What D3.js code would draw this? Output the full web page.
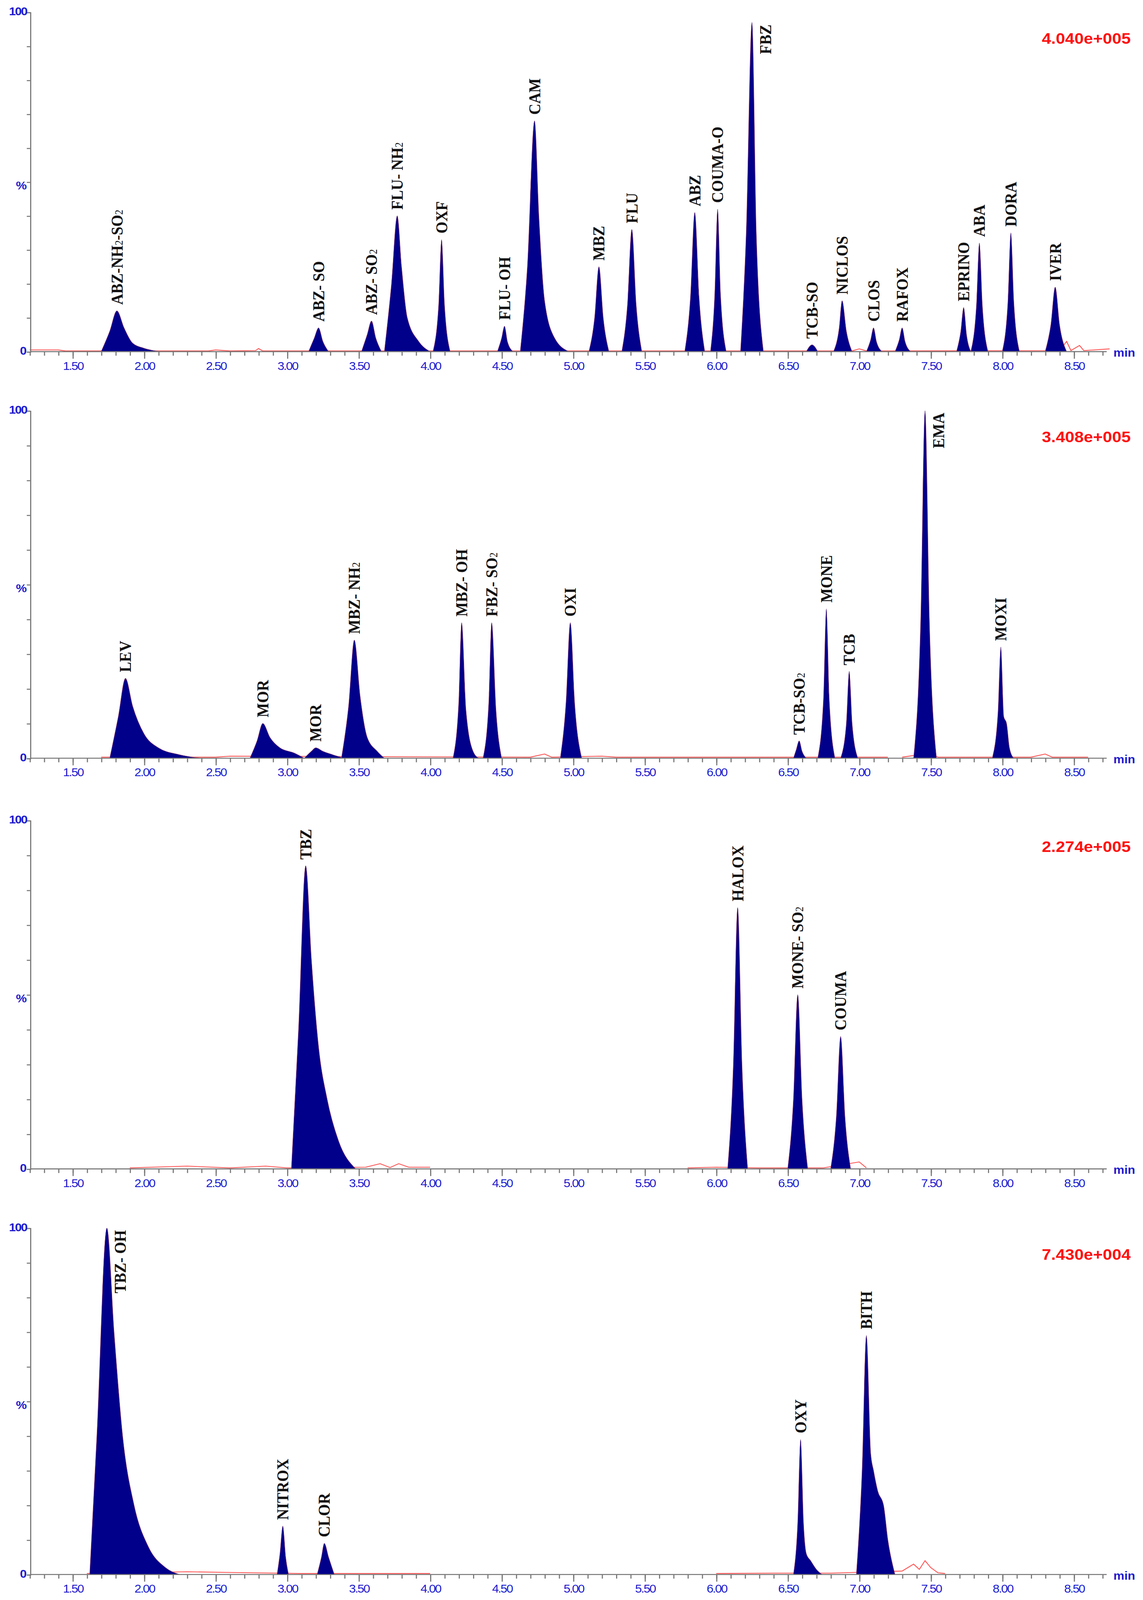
<!DOCTYPE html>
<html lang="en">
<head>
<meta charset="UTF-8">
<title>Chromatograms</title>
<style>
  html, body { margin: 0; padding: 0; background: #fff; overflow: hidden; }
  svg { display: block; }
  .tick text { font-family: "Liberation Sans", Arial, sans-serif; fill: #1c1cd0; font-size: 11px; letter-spacing: -0.8px; }
  .tick line, .domain { stroke: #777; }
  .peak { fill: #00008b; stroke: #8a3a6a; stroke-width: 0.4; }
  .noise { fill: none; stroke: #ff5050; stroke-width: 0.8; }
  .lbl { font-family: "Liberation Serif", "Times New Roman", serif; font-size: 15px; font-weight: bold; fill: #111; }
  .ylab { font-family: "Liberation Sans", Arial, sans-serif; fill: #1c1cd0; font-size: 11px; font-weight: bold; }
  .scale { font-family: "Liberation Sans", Arial, sans-serif; fill: #ff1010; font-size: 15px; font-weight: bold; }
</style>
</head>
<body>
<script src="https://cdnjs.cloudflare.com/ajax/libs/d3/7.8.5/d3.min.js"></script>
<script>
// intensity scale of each trace
var scaleLabels = ["4.040e+005", "3.408e+005", "2.274e+005", "7.430e+004"];
var xTicks = [1.5, 2, 2.5, 3, 3.5, 4, 4.5, 5, 5.5, 6, 6.5, 7, 7.5, 8, 8.5];

// peaks: [label, points [min, %]]   ("_2" = subscript 2)
var peaks1 = [
  ["ABZ-NH_2-SO_2", [[1.70,0],[1.76,6],[1.81,12],[1.86,7],[1.92,2.5],[2.0,1],[2.12,0]]],
  ["ABZ- SO", [[3.15,0],[3.19,4],[3.22,7],[3.25,3],[3.29,0]]],
  ["ABZ- SO_2", [[3.52,0],[3.56,5],[3.59,9],[3.62,4],[3.66,0]]],
  ["FLU- NH_2", [[3.68,0],[3.73,20],[3.77,40],[3.80,25],[3.84,10],[3.92,3],[4.0,0]]],
  ["OXF", [[4.02,0],[4.06,14],[4.08,33],[4.10,14],[4.14,0]]],
  ["FLU- OH", [[4.47,0],[4.50,4],[4.52,7.5],[4.54,3],[4.58,0]]],
  ["CAM", [[4.63,0],[4.68,25],[4.73,68],[4.76,40],[4.80,15],[4.87,4],[4.97,0]]],
  ["MBZ", [[5.11,0],[5.15,10],[5.18,25],[5.21,10],[5.25,0]]],
  ["FLU", [[5.34,0],[5.38,14],[5.41,36],[5.44,14],[5.48,0]]],
  ["ABZ", [[5.78,0],[5.82,16],[5.85,41],[5.88,16],[5.92,0]]],
  ["COUMA-O", [[5.96,0],[5.99,17],[6.01,42],[6.03,17],[6.07,0]]],
  ["FBZ", [[6.17,0],[6.21,35],[6.25,97],[6.28,35],[6.33,0]]],
  ["TCB-SO", [[6.63,0],[6.67,2],[6.71,0]]],
  ["NICLOS", [[6.82,0],[6.86,7],[6.88,15],[6.91,6],[6.95,0]]],
  ["CLOS", [[7.05,0],[7.08,3.5],[7.10,7],[7.12,3],[7.16,0]]],
  ["RAFOX", [[7.25,0],[7.28,3.5],[7.30,7],[7.32,3],[7.36,0]]],
  ["EPRINO", [[7.68,0],[7.71,6],[7.73,13],[7.75,5],[7.78,0]]],
  ["ABA", [[7.78,0],[7.82,14],[7.84,32],[7.86,14],[7.90,0]]],
  ["DORA", [[8.00,0],[8.04,15],[8.06,35],[8.08,15],[8.12,0]]],
  ["IVER", [[8.30,0],[8.34,8],[8.37,19],[8.40,8],[8.45,0]]]
];
var peaks2 = [
  ["LEV", [[1.76,0],[1.82,12],[1.87,23],[1.92,15],[2.0,7],[2.1,3],[2.25,1],[2.4,0]]],
  ["MOR", [[2.74,0],[2.79,5],[2.83,10],[2.88,6],[2.95,3],[3.05,1.5],[3.12,0]]],
  ["MOR", [[3.12,0],[3.17,2],[3.20,3],[3.25,2],[3.32,1],[3.40,0]]],
  ["MBZ- NH_2", [[3.38,0],[3.43,15],[3.47,34],[3.51,18],[3.56,6],[3.63,2],[3.68,0]]],
  ["MBZ- OH", [[4.16,0],[4.20,16],[4.22,39],[4.25,14],[4.30,2],[4.34,0]]],
  ["FBZ-  SO_2", [[4.37,0],[4.41,16],[4.43,39],[4.46,14],[4.50,0]]],
  ["OXI", [[4.91,0],[4.95,16],[4.98,39],[5.01,16],[5.06,0]]],
  ["TCB-SO_2", [[6.54,0],[6.56,2.5],[6.58,5],[6.60,2],[6.63,0]]],
  ["MONE", [[6.71,0],[6.75,17],[6.77,43],[6.79,17],[6.83,0]]],
  ["TCB", [[6.87,0],[6.91,10],[6.93,25],[6.95,10],[6.99,0]]],
  ["EMA", [[7.38,0],[7.43,40],[7.46,100],[7.49,40],[7.54,0]]],
  ["MOXI", [[7.93,0],[7.97,13],[7.99,32],[8.01,12],[8.03,10],[8.05,3],[8.08,0]]]
];
var peaks3 = [
  ["TBZ", [[3.03,0],[3.08,40],[3.13,87],[3.17,60],[3.22,35],[3.28,20],[3.36,8],[3.48,0]]],
  ["HALOX", [[6.08,0],[6.12,30],[6.15,75],[6.18,30],[6.22,0]]],
  ["MONE- SO_2", [[6.50,0],[6.54,20],[6.57,50],[6.60,20],[6.64,0]]],
  ["COUMA", [[6.80,0],[6.84,15],[6.87,38],[6.90,15],[6.94,0]]]
];
var peaks4 = [
  ["TBZ- OH", [[1.62,0],[1.67,40],[1.74,100],[1.79,70],[1.85,40],[1.93,20],[2.03,8],[2.15,2],[2.25,0]]],
  ["NITROX", [[2.93,0],[2.95,6],[2.97,14],[2.99,5],[3.01,0]]],
  ["CLOR", [[3.21,0],[3.24,5],[3.26,9],[3.29,5],[3.33,0]]],
  ["OXY", [[6.54,0],[6.57,15],[6.59,39],[6.61,15],[6.63,6],[6.66,4],[6.70,1.5],[6.74,0]]],
  ["BITH", [[6.98,0],[7.02,30],[7.05,69],[7.08,35],[7.10,30],[7.13,24],[7.17,20],[7.20,10],[7.25,0]]]
];
// labels drawn beside the apex instead of above
var sideLabels = ["FBZ", "EMA", "TBZ- OH"];

// baseline noise traces (red)
var noise1 = [[[1.2,0.5],[1.4,0.5],[1.45,0.2],[2.45,0.2],[2.5,0.5],[2.6,0.2],[2.78,0.3],[2.8,0.9],[2.83,0.2],[6.95,0.2],[7.0,0.8],[7.05,0.2],[8.4,0.3],[8.45,3],[8.48,0.3],[8.54,1.8],[8.57,0.3],[8.75,0.8]]];
var noise2 = [[[1.7,0.3],[2.5,0.3],[2.6,0.6],[4.7,0.3],[4.8,1.2],[4.85,0.3],[5.2,0.6],[5.3,0.3],[6.3,0.3],[7.2,0.3]],
              [[7.3,0.3],[7.5,1.5],[7.55,0.3],[8.2,0.3],[8.3,1.2],[8.35,0.3],[8.6,0.3]]];
var noise3 = [[[1.9,0.3],[2.3,0.8],[2.6,0.3],[2.85,0.8],[3.0,0.3],[3.55,0.5],[3.65,1.5],[3.72,0.4],[3.78,1.5],[3.85,0.5],[4.0,0.5]],
              [[5.8,0.3],[6.0,0.5],[6.3,0.3],[6.75,0.3],[7.0,2],[7.05,0.3]]];
var noise4 = [[[1.6,0.3],[2.3,0.8],[2.6,0.6],[3.1,0.3],[3.5,0.3],[4.0,0.3]],
              [[6.0,0.3],[6.4,0.4],[6.8,0.4],[7.3,1],[7.38,3],[7.42,1.5],[7.46,4],[7.5,2],[7.55,0.5],[7.6,0.3]]];

var panels = [
  {peaks: peaks1, noise: noise1, top: 12, base: 345},
  {peaks: peaks2, noise: noise2, top: 403, base: 744},
  {peaks: peaks3, noise: noise3, top: 805, base: 1147},
  {peaks: peaks4, noise: noise4, top: 1205, base: 1545}
];

var W = 1024, H = 1570;
var svg = d3.select("body").append("svg")
  .attr("width", window.innerWidth).attr("height", window.innerHeight)
  .attr("preserveAspectRatio", "none")
  .attr("viewBox", "0 0 " + W + " " + H);

var x = d3.scaleLinear().domain([1.5, 8.5]).range([65, 962]);
var xMin = x.invert(27), xMax = 8.73;

function addLabel(sel, label) {
  label.split(/(_\d)/).forEach(function (part) {
    if (part.charAt(0) === "_") {
      sel.append("tspan").attr("font-size", "10px").attr("font-weight", "normal").text(part.slice(1));
    } else if (part) {
      sel.append("tspan").text(part);
    }
  });
}

panels.forEach(function (p, i) {
  var y = d3.scaleLinear().domain([0, 100]).range([p.base, p.top]);
  var g = svg.append("g");

  var area = d3.area().curve(d3.curveMonotoneX)
    .x(function (d) { return x(d[0]); })
    .y0(y(0)).y1(function (d) { return y(d[1]); });
  var line = d3.line().curve(d3.curveLinear)
    .x(function (d) { return x(d[0]); })
    .y(function (d) { return y(d[1]); });

  g.selectAll(".noise").data(p.noise).enter().append("path")
    .attr("class", "noise").attr("d", line);

  g.selectAll(".peak").data(p.peaks).enter().append("path")
    .attr("class", "peak").attr("d", function (d) { return area(d[1]); });

  // x axis
  var minor = d3.range(12, 88).map(function (v) { return v / 10; });
  g.append("g").attr("transform", "translate(0," + p.base + ")")
    .call(d3.axisBottom(x).tickValues(minor).tickSize(4).tickFormat(""))
    .call(function (a) { a.select(".domain").remove(); a.selectAll("line").attr("stroke", "#888"); });
  g.append("g").attr("transform", "translate(0," + p.base + ")")
    .call(d3.axisBottom(x).tickValues(xTicks).tickSize(7).tickPadding(3).tickFormat(d3.format(".2f")))
    .call(function (a) { a.select(".domain").remove(); a.selectAll("line").attr("stroke", "#888"); });
  g.append("line").attr("x1", x(xMin)).attr("x2", x(xMax))
    .attr("y1", p.base).attr("y2", p.base).attr("stroke", "#777");
  g.append("text").attr("class", "ylab").attr("x", x(xMax) + 6).attr("y", p.base + 5)
    .attr("font-weight", "normal").text("min");

  // y axis
  g.append("g").attr("transform", "translate(" + x(xMin) + ",0)")
    .call(d3.axisLeft(y).tickValues(d3.range(0, 101, 10)).tickSize(3).tickFormat(""))
    .call(function (a) { a.selectAll("line, .domain").attr("stroke", "#888"); });
  g.append("text").attr("class", "ylab").attr("x", x(xMin) - 3).attr("y", y(100) + 3)
    .attr("text-anchor", "end").attr("letter-spacing", "-0.8").text("100");
  g.append("text").attr("class", "ylab").attr("x", x(xMin) - 3).attr("y", y(49) + 4)
    .attr("text-anchor", "end").text("%");
  g.append("text").attr("class", "ylab").attr("x", x(xMin) - 3).attr("y", y(0) + 3)
    .attr("text-anchor", "end").text("0");

  g.append("text").attr("class", "scale").attr("x", 1013).attr("y", p.top + 31)
    .attr("text-anchor", "end").text(scaleLabels[i]);

  // peak labels
  p.peaks.forEach(function (pk) {
    var apex = pk[1].reduce(function (a, b) { return b[1] > a[1] ? b : a; });
    var side = sideLabels.indexOf(pk[0]) >= 0;
    var lx = x(apex[0]) + (side ? 17 : 5), ly = y(apex[1]) + (side ? 2 : -6);
    var t = g.append("text").attr("class", "lbl")
      .attr("text-anchor", side ? "end" : "start")
      .attr("transform", "translate(" + lx + "," + ly + ") rotate(-90)");
    addLabel(t, pk[0]);
  });
});
</script>
</body>
</html>
